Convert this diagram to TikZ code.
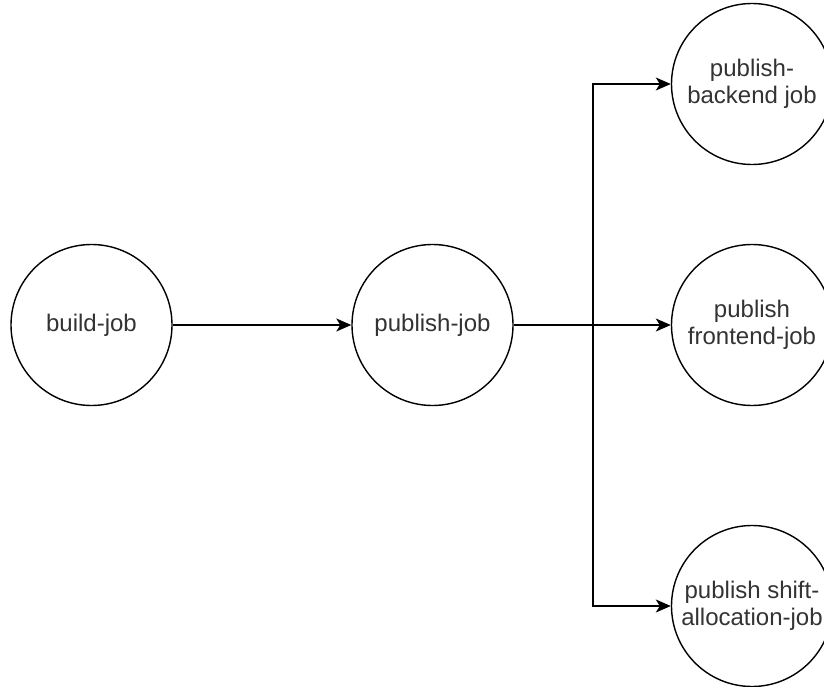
\documentclass[tikz,border=0pt]{standalone}
\usepackage{fontspec}
\setmainfont{Liberation Sans}
\usetikzlibrary{arrows.meta}
\definecolor{txt}{HTML}{333333}
\tikzset{
  job/.style={circle, draw=black, line width=1.4pt, minimum size=161pt, inner sep=0pt,
    align=center, text=txt, font=\fontsize{24}{27}\selectfont},
  flow/.style={line width=1.4pt, draw=black,
    -{Stealth[length=15pt, width=13pt, inset=4pt]}}
}
\begin{document}
\begin{tikzpicture}[x=1pt, y=-1pt]
  \clip (0,0) rectangle (824,687);
  \fill[white] (0,0) rectangle (824,687);

  % job nodes
  \node[job] (build) at (91.5,325) {build-job};
  \node[job] (pub) at (432.5,325) {publish-job};
  \node[job] (back) at (752,84) {publish-\\backend job};
  \node[job] (front) at (752,325) {publish\\frontend-job};
  \node[job] (shift) at (752,606) {publish shift-\\allocation-job};

  % branch point of the fan-out
  \coordinate (split) at (593,325);

  % connectors
  \draw[flow] (build) -- (pub);
  \draw[flow] (pub) -- (front);
  \draw[flow] (split) |- (back.west);
  \draw[flow] (split) |- (shift.west);
\end{tikzpicture}
\end{document}
